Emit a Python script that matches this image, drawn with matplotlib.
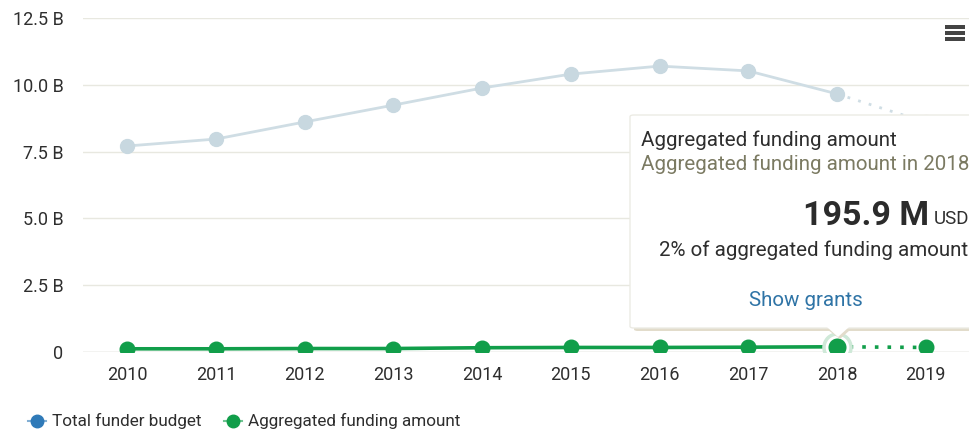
import matplotlib
matplotlib.use("Agg")
import matplotlib.pyplot as plt
from matplotlib.patches import FancyBboxPatch, Polygon, Rectangle
from matplotlib.lines import Line2D

plt.rcParams['font.family'] = ['Roboto', 'DejaVu Sans']

years = ['2010', '2011', '2012', '2013', '2014', '2015', '2016', '2017', '2018', '2019']
total_budget = [7.71e9, 7.97e9, 8.61e9, 9.24e9, 9.88e9, 10.40e9, 10.70e9, 10.52e9, 9.66e9, 8.60e9]
aggregated = [0.12e9, 0.12e9, 0.13e9, 0.13e9, 0.16e9, 0.17e9, 0.17e9, 0.18e9, 0.1959e9, 0.17e9]
ytick_vals = [0, 2.5e9, 5.0e9, 7.5e9, 10.0e9, 12.5e9]
ytick_labels = ['0', '2.5 B', '5.0 B', '7.5 B', '10.0 B', '12.5 B']

W, H = 970, 430
fig = plt.figure(figsize=(W / 100, H / 100), dpi=100)
fig.patch.set_facecolor('white')

def fx(px):
    return px / W

def fy(py):
    return 1 - py / H

txt = '#2e2e2e'

ax = fig.add_axes([fx(83), fy(352), fx(970) - fx(83), fy(18) - fy(352)])
ax.set_xlim(-0.5, 9.5)
ax.set_ylim(0, 12.5e9)
for s in ax.spines.values():
    s.set_visible(False)
ax.set_yticks(ytick_vals)
ax.set_yticklabels(ytick_labels)
ax.set_xticks(range(len(years)))
ax.set_xticklabels(years)
ax.tick_params(axis='both', length=0, labelsize=13, labelcolor=txt)
ax.tick_params(axis='y', pad=14)
ax.tick_params(axis='x', pad=10)
ax.grid(axis='y', color='#e8e8e0', linewidth=1)
ax.set_axisbelow(True)
ax.axhline(0, color='#d8d8d8', linewidth=1, zorder=1)

x = list(range(len(years)))
budget_line = '#cfdde4'
budget_marker = '#c8d8e0'
green = '#119e4a'

# Budget series
ax.plot(x[:9], total_budget[:9], color=budget_line, linewidth=2, zorder=2)
ax.plot(x[8:], total_budget[8:], color=budget_line, linewidth=2, linestyle=(0, (1, 3)), zorder=2)
ax.plot(x, total_budget, linestyle='none', marker='o', markersize=10,
        color=budget_marker, zorder=3)

# Aggregated series
ax.plot(x[:9], aggregated[:9], color=green, linewidth=2.6, zorder=4)
ax.plot(x[8:], aggregated[8:], color=green, linewidth=2.6, linestyle=(0, (1, 2.5)), zorder=4)
ax.plot(x, aggregated, linestyle='none', marker='o', markersize=10.5,
        color=green, zorder=5)
# highlighted 2018 point
ax.plot([8], [aggregated[8]], marker='o', markersize=21, color='#cfe9d8',
        linestyle='none', zorder=5)
ax.plot([8], [aggregated[8]], marker='o', markersize=15, color=green,
        markeredgecolor='white', markeredgewidth=2, linestyle='none', zorder=6)

# Tooltip (overlay)
shadow = FancyBboxPatch((fx(634), fy(331)), fx(980) - fx(634), fy(118) - fy(331),
                        boxstyle='round,pad=0,rounding_size=0.004',
                        transform=fig.transFigure, facecolor='#e2dccb',
                        edgecolor='none', zorder=10)
fig.patches.append(shadow)
box = FancyBboxPatch((fx(630), fy(328)), fx(978) - fx(630), fy(115) - fy(328),
                     boxstyle='round,pad=0,rounding_size=0.004',
                     transform=fig.transFigure, facecolor='white',
                     edgecolor='#ecebe4', linewidth=1, zorder=11)
fig.patches.append(box)
tri_sh = Polygon([(fx(828), fy(330)), (fx(850), fy(330)), (fx(840), fy(339))],
                 closed=True, transform=fig.transFigure, facecolor='#e2dccb',
                 edgecolor='none', zorder=10)
fig.patches.append(tri_sh)
tri = Polygon([(fx(827), fy(327)), (fx(849), fy(327)), (fx(838), fy(337))],
              closed=True, transform=fig.transFigure, facecolor='white',
              edgecolor='none', zorder=12)
fig.patches.append(tri)

fig.text(fx(641), fy(140), 'Aggregated funding amount', fontsize=14.8,
         color=txt, va='center', ha='left', zorder=13)
fig.text(fx(641), fy(164), 'Aggregated funding amount in 2018', fontsize=14.8,
         color='#7b7a62', va='center', ha='left', zorder=13)
fig.text(fx(929), fy(216), '195.9 M', fontsize=24.5, fontweight='bold',
         color='#2b2b2b', va='center', ha='right', zorder=13)
fig.text(fx(969), fy(219), 'USD', fontsize=13.5, color=txt,
         va='center', ha='right', zorder=13)
fig.text(fx(968), fy(250), '2% of aggregated funding amount', fontsize=14.8,
         color=txt, va='center', ha='right', zorder=13)
fig.text(fx(806), fy(301), 'Show grants', fontsize=14.8, color='#2f74a6',
         va='center', ha='center', zorder=13)

# Menu icon
for py in (27, 33, 39):
    fig.patches.append(Rectangle((fx(945), fy(py + 1.5)), fx(20), fy(0) - fy(3),
                                 transform=fig.transFigure, facecolor='#444444',
                                 edgecolor='none', zorder=13))

# Legend
def legend_item(x0, color, label):
    fig.lines.append(Line2D([fx(x0 - 9), fx(x0 + 9)], [fy(421), fy(421)],
                            transform=fig.transFigure, color=color, linewidth=1.5,
                            alpha=0.6))
    fig.lines.append(Line2D([fx(x0)], [fy(421)], transform=fig.transFigure,
                            marker='o', markersize=9, color=color))
    fig.text(fx(x0 + 15), fy(421), label, fontsize=12.3, color=txt,
             va='center', ha='left')

legend_item(37, '#2f7ab8', 'Total funder budget')
legend_item(233, green, 'Aggregated funding amount')

fig.savefig('out.png', dpi=100, facecolor='white')
